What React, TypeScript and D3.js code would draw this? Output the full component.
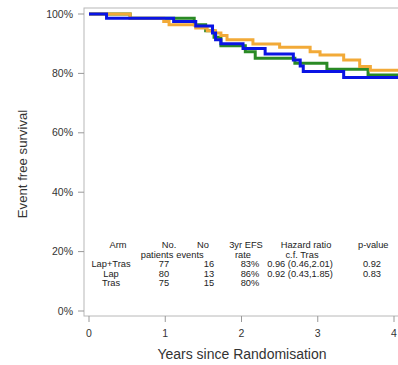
import React from "react";
import * as d3 from "d3";

// Kaplan–Meier event free survival by arm (years, % surviving)
const lapTrasTimes = [0, 0.54, 1.38, 1.53, 1.64, 1.73, 2.05, 2.18, 2.7, 3.12, 3.66, 4.1];
const lapTrasSurv = [100, 98.6, 96.4, 94.4, 92.2, 89.3, 87.3, 85.1, 83.4, 81.4, 79.5, 79.5];

const lapTimes = [0, 0.54, 0.98, 1.05, 1.4, 1.55, 1.66, 1.73, 1.81, 2.15, 2.5, 2.9, 3.03, 3.34, 3.55, 3.69, 4.1];
const lapSurv = [100, 98.6, 97.5, 96.4, 95.3, 94.4, 93.6, 92.8, 91.3, 89.9, 88.8, 87.3, 86.2, 84.5, 82.3, 81.1, 81.1];

const trasTimes = [0, 0.23, 1.11, 1.4, 1.62, 1.66, 1.73, 2.02, 2.31, 2.68, 2.77, 2.81, 3.34, 4.1];
const trasSurv = [100, 98.6, 97.5, 96.0, 93.6, 91.3, 90.0, 88.4, 86.5, 84.5, 82.5, 80.6, 78.6, 78.6];

const xTicks = [0, 1, 2, 3, 4];
const yTicks = [0, 20, 40, 60, 80, 100];

// Summary table
const armNames = ["Lap+Tras", "Lap", "Tras"];
const patients = ["77", "80", "75"];
const events = ["16", "13", "15"];
const efsRates = ["83%", "86%", "80%"];
const hazardRatios = ["0.96 (0.46,2.01)", "0.92 (0.43,1.85)", ""];
const pValues = ["0.92", "0.83", ""];

const W = 398;
const H = 365;

const x = d3.scaleLinear().domain([0, 4]).range([89, 394]);
const y = d3.scaleLinear().domain([0, 100]).range([311, 14]);

const frame = { left: 84, top: 8, right: 420, bottom: 316 };

const series = [
  { times: lapTrasTimes, surv: lapTrasSurv, color: "#2a8a25" },
  { times: lapTimes, surv: lapSurv, color: "#f2aa38" },
  { times: trasTimes, surv: trasSurv, color: "#0a14e4" },
];

const stepLine = d3
  .line<[number, number]>()
  .x((d) => x(d[0]))
  .y((d) => y(d[1]))
  .curve(d3.curveStepAfter);

const font = "Arial, 'Liberation Sans', sans-serif";

export default function App() {
  const rowBase = [267, 276.5, 286];
  const colArm = 111;
  const colPat = 164;
  const colEv = 209;
  const colRate = 250;
  const colHr = 300;
  const colP = 372;
  const tfs = 9.3;
  return (
    <svg
      width={W}
      height={H}
      style={{ position: "absolute", left: 0, top: 0, background: "#fff" }}
      fontFamily={font}
    >
      <rect
        x={frame.left}
        y={frame.top}
        width={frame.right - frame.left}
        height={frame.bottom - frame.top}
        fill="none"
        stroke="#b8b8b8"
        strokeWidth={1}
      />
      {yTicks.map((t) => (
        <g key={"y" + t}>
          <line x1={frame.left - 6} x2={frame.left} y1={y(t)} y2={y(t)} stroke="#999" />
          <text x={73} y={y(t) + 3.5} fontSize={10.5} textAnchor="end" fill="#333">
            {t}%
          </text>
        </g>
      ))}
      {xTicks.map((t) => (
        <g key={"x" + t}>
          <line x1={x(t)} x2={x(t)} y1={frame.bottom} y2={frame.bottom + 6} stroke="#999" />
          <text x={x(t)} y={337} fontSize={10.5} textAnchor="middle" fill="#333">
            {t}
          </text>
        </g>
      ))}
      <text x={242} y={359} fontSize={14} textAnchor="middle" fill="#333">
        Years since Randomisation
      </text>
      <text
        transform="translate(27,164) rotate(-90)"
        fontSize={13.2}
        textAnchor="middle"
        fill="#333"
      >
        Event free survival
      </text>

      {series.map((s, i) => (
        <path
          key={i}
          d={stepLine(s.times.map((t, j) => [t, s.surv[j]] as [number, number])) || ""}
          fill="none"
          stroke={s.color}
          strokeWidth={3}
        />
      ))}

      <g fontSize={tfs} fill="#222" textAnchor="middle">
        <text x={118} y={248}>Arm</text>
        <text x={169} y={248}>No.</text>
        <text x={157} y={257.5}>patients</text>
        <text x={203} y={248}>No</text>
        <text x={190} y={257.5}>events</text>
        <text x={246} y={248}>3yr EFS</text>
        <text x={243} y={257.5}>rate</text>
        <text x={306} y={248}>Hazard ratio</text>
        <text x={302} y={257.5}>c.f. Tras</text>
        <text x={358} y={248} textAnchor="start">p-value</text>
        {armNames.map((a, i) => (
          <g key={a}>
            <text x={colArm} y={rowBase[i]}>{a}</text>
            <text x={colPat} y={rowBase[i]}>{patients[i]}</text>
            <text x={colEv} y={rowBase[i]}>{events[i]}</text>
            <text x={colRate} y={rowBase[i]}>{efsRates[i]}</text>
            <text x={colHr} y={rowBase[i]}>{hazardRatios[i]}</text>
            <text x={colP} y={rowBase[i]}>{pValues[i]}</text>
          </g>
        ))}
      </g>
    </svg>
  );
}
